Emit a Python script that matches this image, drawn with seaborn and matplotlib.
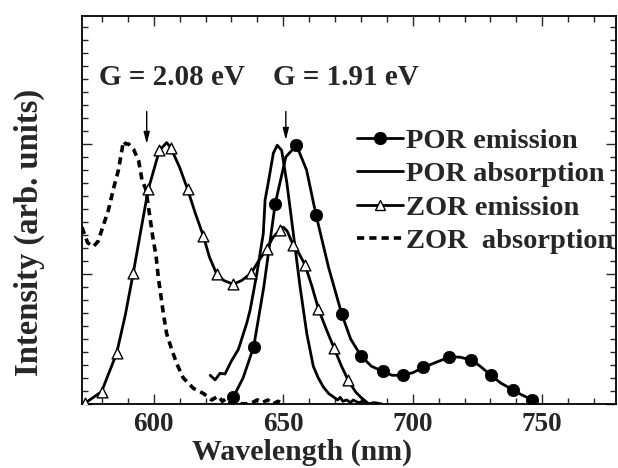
import matplotlib
matplotlib.use("Agg")
import matplotlib.pyplot as plt
from matplotlib.lines import Line2D
from matplotlib.ticker import MultipleLocator, NullFormatter
import seaborn as sns
import numpy as np

# ---------------- data ----------------
# ZOR emission (line + open triangles)
zor_em_wl = [572.5, 573.5, 579.9, 585.7, 589.0, 592.1, 595.0, 597.9, 602.2, 605.0, 606.6,
             610.0, 613.1, 616.0, 619.2, 621.5, 624.3, 627.0, 630.7, 634.0, 637.6, 640.5,
             643.6, 646.0, 648.8, 650.0, 651.5, 653.9, 656.0, 658.4, 661.0, 663.6, 666.5,
             669.6, 672.5, 675.1, 678.0, 680.0, 683.0]
zor_em_val = [0.0, 0.005, 0.095, 0.39, 0.68, 1.005, 1.33, 1.65, 1.95, 2.01, 1.97,
              1.82, 1.65, 1.47, 1.29, 1.13, 1.0, 0.95, 0.92, 0.95, 1.005, 1.10,
              1.19, 1.28, 1.34, 1.36, 1.33, 1.22, 1.16, 1.07, 0.91, 0.73, 0.58,
              0.43, 0.29, 0.18, 0.09, 0.05, 0.0]
zor_em_mk_wl = [573.5, 579.9, 585.7, 592.1, 597.9, 602.2, 606.6, 613.1, 619.2, 624.3,
                630.7, 637.6, 643.6, 648.8, 653.9, 658.4, 663.6, 669.6, 675.1]
zor_em_mk_val = [0.005, 0.095, 0.39, 1.005, 1.65, 1.95, 1.97, 1.65, 1.29, 1.0,
                 0.92, 1.005, 1.19, 1.34, 1.22, 1.07, 0.73, 0.43, 0.18]

# POR emission (line + filled circles)
por_em_wl = [629.0, 630.7, 634.5, 638.6, 642.5, 646.9, 651.0, 655.1, 659.0, 662.7, 667.5,
             672.6, 676.0, 680.0, 684.0, 688.4, 692.0, 696.1, 700.0, 704.1, 709.0, 714.1,
             718.0, 722.4, 726.0, 730.2, 734.0, 738.5, 742.0, 746.2]
por_em_val = [0.0, 0.05, 0.2, 0.44, 0.9, 1.54, 1.9, 1.99, 1.8, 1.45, 1.05,
              0.69, 0.5, 0.37, 0.29, 0.25, 0.22, 0.22, 0.24, 0.28, 0.32, 0.36,
              0.36, 0.34, 0.29, 0.22, 0.16, 0.11, 0.07, 0.03]
por_em_mk_wl = [630.7, 638.6, 646.9, 655.1, 662.7, 672.6, 680.0, 688.4, 696.1, 704.1,
                714.1, 722.4, 730.2, 738.5, 746.2]
por_em_mk_val = [0.05, 0.44, 1.54, 1.99, 1.45, 0.69, 0.37, 0.25, 0.22, 0.28,
                 0.36, 0.34, 0.22, 0.11, 0.03]

# POR absorption (plain solid line)
por_ab_wl = [621.8, 623.7, 625.6, 627.5, 630.0, 632.7, 635.9, 637.2, 639.8, 642.3, 643.0,
             644.2, 646.2, 647.7, 649.4, 651.4, 653.9, 656.5, 659.1, 661.6, 663.5, 665.5,
             667.5, 669.3, 671.0, 672.0, 673.0, 674.5, 676.0, 677.0, 679.0, 681.0, 683.0,
             685.0, 688.0]
por_ab_val = [0.22, 0.185, 0.235, 0.23, 0.33, 0.42, 0.62, 0.72, 1.0, 1.31, 1.57,
              1.70, 1.93, 1.99, 1.95, 1.70, 1.31, 0.90, 0.54, 0.29, 0.20, 0.13,
              0.08, 0.055, 0.03, 0.05, 0.02, 0.03, 0.01, 0.03, 0.01, 0.02, 0.0,
              0.01, 0.0]

# ZOR absorption (dashed line)
zor_ab_wl = [572.3, 574.5, 576.7, 578.5, 580.0, 582.5, 584.4, 586.4, 587.7, 588.3, 589.2,
             590.3, 592.2, 594.2, 595.5, 597.0, 598.3, 599.6, 600.9, 601.8, 603.7, 605.0,
             607.0, 608.9, 611.4, 615.3, 619.2, 622.4, 624.9, 626.5, 628.0, 630.0, 632.0,
             634.0, 637.0, 640.0, 642.0, 644.0, 646.0, 648.0, 650.0]
zor_ab_val = [1.36, 1.24, 1.21, 1.25, 1.34, 1.49, 1.65, 1.80, 1.95, 2.02, 2.0,
              2.0, 1.96, 1.87, 1.72, 1.65, 1.47, 1.29, 1.14, 0.97, 0.70, 0.54,
              0.415, 0.31, 0.20, 0.12, 0.08, 0.03, 0.06, 0.02, 0.04, 0.01, 0.02,
              0.0, 0.0, 0.03, 0.01, 0.03, 0.0, 0.02, 0.0]

legend_labels = ["POR emission", "POR absorption", "ZOR emission", "ZOR  absorption"]
annot_texts = ["G = 2.08 eV", "G = 1.91 eV"]
annot_wl = [597.3, 651.0]
annot_tip = [2.0, 2.03]
x_ticks = [600, 650, 700, 750]

# ---------------- style ----------------
sns.set_style("ticks")
plt.rcParams["font.family"] = ["Liberation Serif", "DejaVu Serif"]
plt.rcParams["font.weight"] = "bold"
plt.rcParams["xtick.direction"] = "in"
plt.rcParams["ytick.direction"] = "in"

fig = plt.figure(figsize=(6.18, 4.68), dpi=100)
ax = fig.add_axes([0.133, 0.137, 0.864, 0.829])

LW = 2.0
DASH = (0, (2.0, 1.4))
sns.lineplot(x=zor_ab_wl, y=zor_ab_val, ax=ax, color="black", lw=2.6,
             estimator=None, sort=False, linestyle=DASH)
sns.lineplot(x=por_ab_wl, y=por_ab_val, ax=ax, color="black", lw=LW,
             estimator=None, sort=False)
sns.lineplot(x=zor_em_wl, y=zor_em_val, ax=ax, color="black", lw=LW,
             estimator=None, sort=False)
sns.lineplot(x=por_em_wl, y=por_em_val, ax=ax, color="black", lw=LW,
             estimator=None, sort=False)
sns.scatterplot(x=zor_em_mk_wl, y=zor_em_mk_val, ax=ax, marker="^", s=60,
                facecolor="white", edgecolor="black", linewidth=1.0, zorder=5)
sns.scatterplot(x=por_em_mk_wl, y=por_em_mk_val, ax=ax, marker="o", s=80,
                color="black", edgecolor="black", linewidth=0.5, zorder=5)

ax.set_xlim(572.4, 778.5)
ax.set_ylim(0, 2.985)
ax.set_xticks(x_ticks)
ax.xaxis.set_minor_locator(MultipleLocator(10))
ax.yaxis.set_major_locator(MultipleLocator(1))
ax.yaxis.set_minor_locator(MultipleLocator(0.1))
ax.yaxis.set_major_formatter(NullFormatter())
ax.tick_params(which="both", top=True, right=True, direction="in", width=1.0)
ax.tick_params(which="major", length=7)
ax.tick_params(which="minor", length=4)
ax.tick_params(axis="x", labelsize=19.5, pad=6)
for t in ax.get_xticklabels():
    t.set_fontweight("bold")
for s in ax.spines.values():
    s.set_linewidth(1.3)
    s.set_color("black")

ax.set_xlabel("Wavelength (nm)", fontsize=21.5, fontweight="bold")
ax.xaxis.set_label_coords(0.412, -0.089)
ax.set_ylabel("Intensity (arb. units)", fontsize=23.5, fontweight="bold")
ax.yaxis.set_label_coords(-0.07, 0.443)

# annotations
for txt, wl, tip, tx in zip(annot_texts, annot_wl, annot_tip, [578.8, 646.0]):
    ax.annotate("", xy=(wl, tip), xytext=(wl, 2.25),
                arrowprops=dict(arrowstyle="-|>,head_width=0.18,head_length=0.7",
                                color="black", lw=1.0, shrinkA=0, shrinkB=0))
    ax.text(tx, 2.45, txt, fontsize=21, fontweight="bold", ha="left", va="baseline")

handles = [
    Line2D([], [], color="black", lw=LW, marker="o", markersize=8.5),
    Line2D([], [], color="black", lw=LW),
    Line2D([], [], color="black", lw=LW, marker="^", markersize=7.5,
           markerfacecolor="white", markeredgecolor="black", markeredgewidth=1.0),
    Line2D([], [], color="black", lw=2.6, linestyle=DASH),
]
leg = ax.legend(handles, legend_labels, loc="upper left", bbox_to_anchor=(0.515, 0.712),
                frameon=False, fontsize=20.5, handlelength=1.6, handletextpad=0.12,
                labelspacing=0.27, borderaxespad=0, borderpad=0)
for t in leg.get_texts():
    t.set_fontweight("bold")

fig.savefig("out.png", dpi=100)
